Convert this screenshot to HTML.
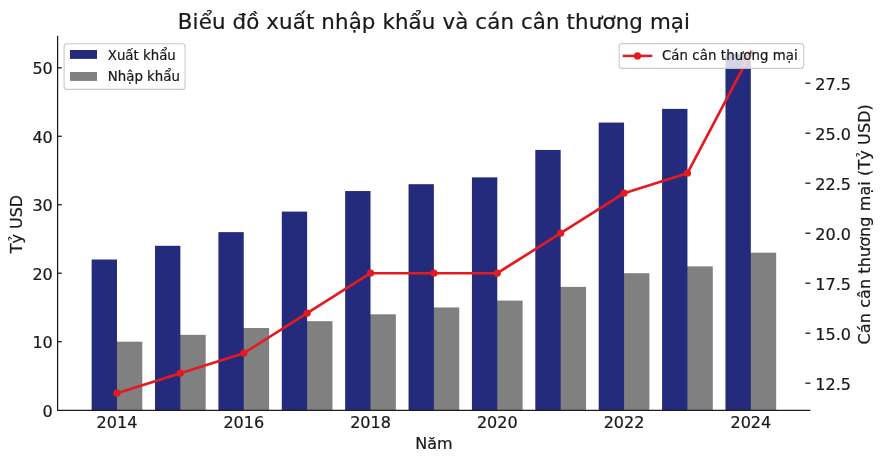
<!DOCTYPE html>
<html lang="vi"><head><meta charset="utf-8"><title>Biểu đồ xuất nhập khẩu và cán cân thương mại</title>
<style>
html,body{margin:0;padding:0;background:#fff;}
body{width:883px;height:462px;overflow:hidden;}
svg{display:block;font-family:"DejaVu Sans","Liberation Sans",sans-serif;}
text{fill:#1a1a1a;stroke:#1a1a1a;stroke-width:0.22px;}
</style></head><body>
<svg width="883" height="462" viewBox="0 0 883 462">
<rect x="0" y="0" width="883" height="462" fill="#ffffff"/>

<rect x="115.98" y="341.68" width="26.35" height="68.47" fill="#808080"/>
<rect x="91.63" y="259.51" width="25.35" height="150.64" fill="#252b7c"/>
<rect x="179.36" y="334.83" width="26.35" height="75.32" fill="#808080"/>
<rect x="155.01" y="245.82" width="25.35" height="164.33" fill="#252b7c"/>
<rect x="242.75" y="327.99" width="26.35" height="82.16" fill="#808080"/>
<rect x="218.39" y="232.13" width="25.35" height="178.02" fill="#252b7c"/>
<rect x="306.13" y="321.14" width="26.35" height="89.01" fill="#808080"/>
<rect x="281.78" y="211.58" width="25.35" height="198.57" fill="#252b7c"/>
<rect x="369.52" y="314.29" width="26.35" height="95.86" fill="#808080"/>
<rect x="345.16" y="191.04" width="25.35" height="219.11" fill="#252b7c"/>
<rect x="432.90" y="307.44" width="26.35" height="102.71" fill="#808080"/>
<rect x="408.55" y="184.20" width="25.35" height="225.95" fill="#252b7c"/>
<rect x="496.28" y="300.60" width="26.35" height="109.55" fill="#808080"/>
<rect x="471.93" y="177.35" width="25.35" height="232.80" fill="#252b7c"/>
<rect x="559.67" y="286.90" width="26.35" height="123.25" fill="#808080"/>
<rect x="535.31" y="149.96" width="25.35" height="260.19" fill="#252b7c"/>
<rect x="623.05" y="273.21" width="26.35" height="136.94" fill="#808080"/>
<rect x="598.70" y="122.57" width="25.35" height="287.58" fill="#252b7c"/>
<rect x="686.44" y="266.36" width="26.35" height="143.79" fill="#808080"/>
<rect x="662.08" y="108.88" width="25.35" height="301.27" fill="#252b7c"/>
<rect x="749.82" y="252.67" width="26.35" height="157.48" fill="#808080"/>
<rect x="725.47" y="54.10" width="25.35" height="356.05" fill="#252b7c"/>
<line x1="57.6" y1="35.8" x2="57.6" y2="411.04999999999995" stroke="#1c1c1c" stroke-width="1.25"/>
<line x1="57.0" y1="410.4" x2="810.4" y2="410.4" stroke="#1c1c1c" stroke-width="1.3"/>
<text x="52.8" y="416.75" font-size="16" text-anchor="end">0</text>
<line x1="57.4" y1="341.68" x2="61.699999999999996" y2="341.68" stroke="#1c1c1c" stroke-width="1.3"/>
<text x="52.8" y="348.28" font-size="16" text-anchor="end">10</text>
<line x1="57.4" y1="273.21" x2="61.699999999999996" y2="273.21" stroke="#1c1c1c" stroke-width="1.3"/>
<text x="52.8" y="279.81" font-size="16" text-anchor="end">20</text>
<line x1="57.4" y1="204.74" x2="61.699999999999996" y2="204.74" stroke="#1c1c1c" stroke-width="1.3"/>
<text x="52.8" y="211.34" font-size="16" text-anchor="end">30</text>
<line x1="57.4" y1="136.27" x2="61.699999999999996" y2="136.27" stroke="#1c1c1c" stroke-width="1.3"/>
<text x="52.8" y="142.87" font-size="16" text-anchor="end">40</text>
<line x1="57.4" y1="67.80" x2="61.699999999999996" y2="67.80" stroke="#1c1c1c" stroke-width="1.3"/>
<text x="52.8" y="74.40" font-size="16" text-anchor="end">50</text>
<line x1="805.4" y1="383.20" x2="810.4" y2="383.20" stroke="#1c1c1c" stroke-width="1.3"/>
<text x="815.3" y="389.70" font-size="16" text-anchor="start">12.5</text>
<line x1="805.4" y1="333.20" x2="810.4" y2="333.20" stroke="#1c1c1c" stroke-width="1.3"/>
<text x="815.3" y="339.70" font-size="16" text-anchor="start">15.0</text>
<line x1="805.4" y1="283.20" x2="810.4" y2="283.20" stroke="#1c1c1c" stroke-width="1.3"/>
<text x="815.3" y="289.70" font-size="16" text-anchor="start">17.5</text>
<line x1="805.4" y1="233.20" x2="810.4" y2="233.20" stroke="#1c1c1c" stroke-width="1.3"/>
<text x="815.3" y="239.70" font-size="16" text-anchor="start">20.0</text>
<line x1="805.4" y1="183.20" x2="810.4" y2="183.20" stroke="#1c1c1c" stroke-width="1.3"/>
<text x="815.3" y="189.70" font-size="16" text-anchor="start">22.5</text>
<line x1="805.4" y1="133.20" x2="810.4" y2="133.20" stroke="#1c1c1c" stroke-width="1.3"/>
<text x="815.3" y="139.70" font-size="16" text-anchor="start">25.0</text>
<line x1="805.4" y1="83.20" x2="810.4" y2="83.20" stroke="#1c1c1c" stroke-width="1.3"/>
<text x="815.3" y="89.70" font-size="16" text-anchor="start">27.5</text>
<text x="116.98" y="428.05" font-size="16" text-anchor="middle">2014</text>
<text x="243.75" y="428.05" font-size="16" text-anchor="middle">2016</text>
<text x="370.52" y="428.05" font-size="16" text-anchor="middle">2018</text>
<text x="497.28" y="428.05" font-size="16" text-anchor="middle">2020</text>
<text x="624.05" y="428.05" font-size="16" text-anchor="middle">2022</text>
<text x="750.82" y="428.05" font-size="16" text-anchor="middle">2024</text>
<polyline points="116.98,393.20 180.36,373.20 243.75,353.20 307.13,313.20 370.52,273.20 433.90,273.20 497.28,273.20 560.67,233.20 624.05,193.20 687.44,173.20 750.82,53.20" fill="none" stroke="#e41a20" stroke-width="2.65" stroke-linejoin="round" stroke-linecap="round"/>
<circle cx="116.98" cy="393.20" r="3.6" fill="#e41a20"/>
<circle cx="180.36" cy="373.20" r="3.6" fill="#e41a20"/>
<circle cx="243.75" cy="353.20" r="3.6" fill="#e41a20"/>
<circle cx="307.13" cy="313.20" r="3.6" fill="#e41a20"/>
<circle cx="370.52" cy="273.20" r="3.6" fill="#e41a20"/>
<circle cx="433.90" cy="273.20" r="3.6" fill="#e41a20"/>
<circle cx="497.28" cy="273.20" r="3.6" fill="#e41a20"/>
<circle cx="560.67" cy="233.20" r="3.6" fill="#e41a20"/>
<circle cx="624.05" cy="193.20" r="3.6" fill="#e41a20"/>
<circle cx="687.44" cy="173.20" r="3.6" fill="#e41a20"/>
<circle cx="750.82" cy="53.20" r="3.6" fill="#e41a20"/>
<text x="433.90" y="448.9" font-size="16" text-anchor="middle">Năm</text>
<text transform="translate(22.1,224.12) rotate(-90)" font-size="16" text-anchor="middle">Tỷ USD</text>
<text transform="translate(869.8,224.32) rotate(-90)" textLength="240.3" font-size="16" text-anchor="middle">Cán cân thương mại (Tỷ USD)</text>
<text x="433.90" y="28.5" font-size="21.4" textLength="512.2" text-anchor="middle">Biểu đồ xuất nhập khẩu và cán cân thương mại</text>
<rect x="64.1" y="43.7" width="121" height="45.7" rx="3" ry="3" fill="#ffffff" fill-opacity="0.8" stroke="#c4c4c4" stroke-opacity="0.9" stroke-width="1.1"/>
<rect x="70" y="50" width="27" height="8.9" fill="#252b7c"/>
<text x="107.8" y="59.5" font-size="13.33">Xuất khẩu</text>
<rect x="70" y="72" width="27" height="8.9" fill="#808080"/>
<text x="107.8" y="80.8" font-size="13.33">Nhập khẩu</text>
<rect x="619.2" y="43.6" width="184.5" height="24.8" rx="3" ry="3" fill="#ffffff" fill-opacity="0.8" stroke="#c4c4c4" stroke-opacity="0.9" stroke-width="1.1"/>
<line x1="622.7" y1="55.9" x2="652.3" y2="55.9" stroke="#e41a20" stroke-width="2.5"/>
<circle cx="637.5" cy="55.9" r="3.6" fill="#e41a20"/>
<text x="661.9" y="60.1" textLength="135.9" font-size="13.33">Cán cân thương mại</text>
</svg></body></html>
